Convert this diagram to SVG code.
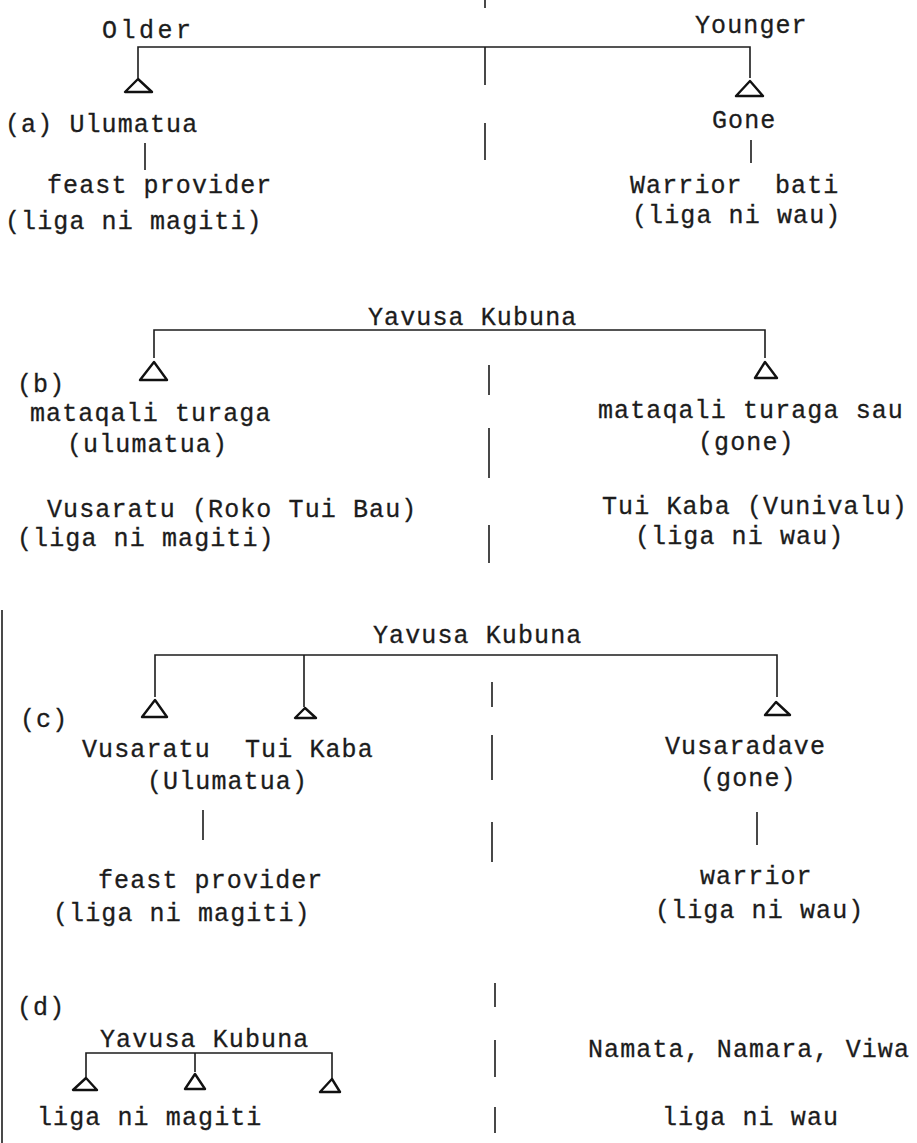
<svg xmlns="http://www.w3.org/2000/svg" width="917" height="1143" viewBox="0 0 917 1143">
<style>
text{font-family:"Liberation Mono","Courier New",monospace;font-size:25px;letter-spacing:1.1px;fill:#1c1c1c;stroke:#1c1c1c;stroke-width:0.3px;white-space:pre}
.ln{fill:none;stroke:#1c1c1c;stroke-width:1.6}
.tri{fill:none;stroke:#111;stroke-width:2.4;stroke-linejoin:round}
</style>
<rect width="917" height="1143" fill="#fff"/>
<g id="connectors">
<path class="ln" d="M138,78 V47 H750 V78"/>
<path class="ln" d="M485,0 V8 M485,47 V85 M485,123 V160"/>
<path class="ln" d="M145,143 V170 M751,140 V163"/>
<path class="ln" d="M154,358 V330 H765 V358"/>
<path class="ln" d="M489,365 V395 M489,428 V478 M489,525 V563"/>
<path class="ln" d="M155,697 V655 H777 V697 M304,655 V707"/>
<path class="ln" d="M492,682 V707 M492,735 V780 M492,822 V862"/>
<path class="ln" d="M203,810 V840 M757,812 V845"/>
<path class="ln" d="M86,1077 V1053 H332 V1080 M195,1053 V1072"/>
<path class="ln" d="M495,983 V1007 M495,1040 V1077 M495,1107 V1133"/>
<path class="ln" d="M2,610 V1143"/>
</g>
<g id="a-older"><text x="102" y="38" textLength="90" lengthAdjust="spacing">Older</text></g>
<g id="a-younger"><text x="695" y="33">Younger</text></g>
<g id="a-ulumatua"><polygon class="tri" points="138,79 125,92 152,92"/><text x="5" y="132">(a) Ulumatua</text></g>
<g id="a-feast"><text x="47" y="193">feast provider</text><text x="5" y="229">(liga ni magiti)</text></g>
<g id="a-gone"><polygon class="tri" points="750,81 736,96 763,96"/><text x="712" y="128">Gone</text></g>
<g id="a-warrior"><text x="630" y="193" xml:space="preserve">Warrior  bati</text><text x="632" y="223">(liga ni wau)</text></g>
<g id="b-yavusa"><text x="368" y="325">Yavusa Kubuna</text></g>
<g id="b-label"><text x="17" y="392">(b)</text></g>
<g id="b-turaga"><polygon class="tri" points="154,362 140,380 167,380"/><text x="30" y="421">mataqali turaga</text><text x="67" y="452">(ulumatua)</text></g>
<g id="b-vusaratu"><text x="47" y="517">Vusaratu (Roko Tui Bau)</text><text x="17" y="546">(liga ni magiti)</text></g>
<g id="b-sau"><polygon class="tri" points="765,362 755,378 777,378"/><text x="598" y="418">mataqali turaga sau</text><text x="698" y="450">(gone)</text></g>
<g id="b-tuikaba"><text x="602" y="514">Tui Kaba (Vunivalu)</text><text x="635" y="544">(liga ni wau)</text></g>
<g id="c-yavusa"><text x="373" y="643">Yavusa Kubuna</text></g>
<g id="c-label"><text x="20" y="727">(c)</text></g>
<g id="c-vusaratu"><polygon class="tri" points="155,700 142,717 167,717"/><text x="82" y="757">Vusaratu</text><text x="147" y="789">(Ulumatua)</text></g>
<g id="c-tuikaba"><polygon class="tri" points="305,708 295,718 316,718"/><text x="245" y="757">Tui Kaba</text></g>
<g id="c-feast"><text x="98" y="888">feast provider</text><text x="53" y="921">(liga ni magiti)</text></g>
<g id="c-vusaradave"><polygon class="tri" points="776,702 765,715 790,715"/><text x="665" y="754">Vusaradave</text><text x="700" y="786">(gone)</text></g>
<g id="c-warrior"><text x="700" y="884">warrior</text><text x="655" y="918">(liga ni wau)</text></g>
<g id="d-label"><text x="17" y="1015">(d)</text></g>
<g id="d-yavusa"><text x="100" y="1047">Yavusa Kubuna</text></g>
<g id="d-m1"><polygon class="tri" points="86,1078 73,1090 97,1090"/></g>
<g id="d-m2"><polygon class="tri" points="195,1074 185,1089 205,1089"/></g>
<g id="d-m3"><polygon class="tri" points="332,1079 320,1092 340,1092"/></g>
<g id="d-magiti"><text x="37" y="1125">liga ni magiti</text></g>
<g id="d-namata"><text x="588" y="1057">Namata, Namara, Viwa</text></g>
<g id="d-wau"><text x="662" y="1125">liga ni wau</text></g>
</svg>
